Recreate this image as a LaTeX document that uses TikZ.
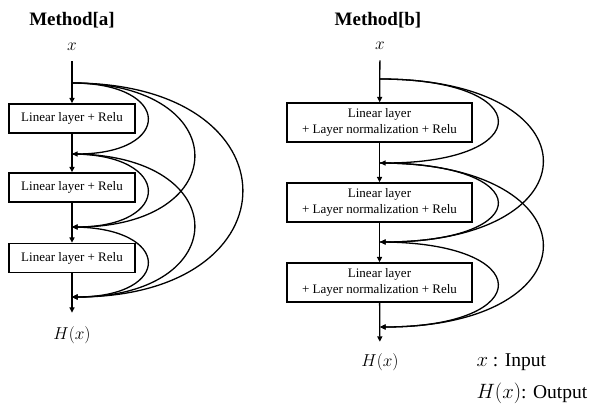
\documentclass[tikz,border=0pt]{standalone}
\usepackage{fontspec}
\setmainfont{Liberation Serif}
\usetikzlibrary{arrows.meta}
\begin{document}
\begin{tikzpicture}[x=1pt,y=-1pt,
  lw/.style={line width=1.3pt},
  arr/.style={lw,-{Triangle[length=5.5pt,width=5pt]}},
  boxa/.style={draw,lw,minimum width=126pt,minimum height=29pt,inner sep=0pt,font=\fontsize{13}{16}\selectfont},
  boxb/.style={draw,lw,minimum width=185pt,minimum height=39pt,inner sep=0pt,align=center,font=\fontsize{13}{16}\selectfont},
  ttl/.style={font=\fontsize{19}{22}\selectfont\bfseries},
  mlab/.style={font=\fontsize{17}{20}\selectfont},
  leg/.style={font=\fontsize{19.5}{23}\selectfont,anchor=west},
]
\useasboundingbox (0,0) rectangle (589,407);

% ---------- Method[a] ----------
\node[ttl] (ta) at (72,20) {Method[a]};
\node[mlab] (xa) at (72,47) {$x$};
\coordinate (a0) at (72,83);
\node[boxa] (ba1) at (72,118.5) {Linear layer + Relu};
\coordinate (a1) at (72,154);
\node[boxa] (ba2) at (72,187.5) {Linear layer + Relu};
\coordinate (a2) at (72,227);
\node[boxa] (ba3) at (72,258) {Linear layer + Relu};
\coordinate (a3) at (72,297);
\node[mlab] (ha) at (72,335) {$H(x)$};

\draw[arr, shorten <=7pt] (xa) -- (ba1);
\draw[arr] (ba1) -- (ba2);
\draw[arr] (ba2) -- (ba3);
\draw[arr, shorten >=10pt] (ba3) -- (ha);

\draw[arr] (a0) .. controls +(101,0) and +(101,0) .. (a1);
\draw[arr] (a1) .. controls +(101,0) and +(101,0) .. (a2);
\draw[arr] (a2) .. controls +(101,0) and +(101,0) .. (a3);
\draw[arr] (a0) .. controls +(163,0) and +(163,0) .. (a2);
\draw[arr] (a1) .. controls +(163,0) and +(163,0) .. (a3);
\draw[arr] (a0) .. controls +(227,0) and +(227,0) .. (a3);

% ---------- Method[b] ----------
\node[ttl] (tb) at (378,20) {Method[b]};
\node[mlab] (xb) at (380,46) {$x$};
\coordinate (b0) at (380,79);
\node[boxb] (bb1) at (379.5,122.5) {Linear layer\\+ Layer normalization + Relu};
\coordinate (b1) at (380,163);
\node[boxb] (bb2) at (379.5,202.5) {Linear layer\\+ Layer normalization + Relu};
\coordinate (b2) at (380,242);
\node[boxb] (bb3) at (379.5,282.5) {Linear layer\\+ Layer normalization + Relu};
\coordinate (b3) at (380,327);
\node[mlab] (hb) at (380,362) {$H(x)$};

\draw[arr, shorten <=7pt] (xb) -- (bb1);
\draw[arr] (bb1) -- (bb2);
\draw[arr] (bb2) -- (bb3);
\draw[arr, shorten >=8pt] (bb3) -- (hb);

\draw[arr] (b0) .. controls +(157,0) and +(157,0) .. (b1);
\draw[arr] (b1) .. controls +(157,0) and +(157,0) .. (b2);
\draw[arr] (b2) .. controls +(157,0) and +(157,0) .. (b3);
\draw[arr] (b0) .. controls +(217,0) and +(217,0) .. (b2);
\draw[arr] (b1) .. controls +(217,0) and +(217,0) .. (b3);

% ---------- legend ----------
\node[leg] (l1) at (473,362) {$x$ : Input};
\node[leg] (l2) at (473,393) {$H(x)$: Output};
\end{tikzpicture}
\end{document}
